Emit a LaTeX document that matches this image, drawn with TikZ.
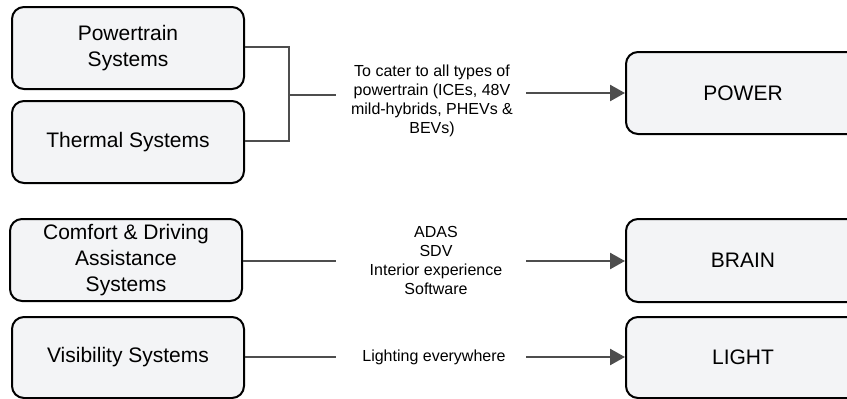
\documentclass[tikz,border=0pt]{standalone}
\usepackage{fontspec}
\setmainfont{Liberation Sans}
\usetikzlibrary{arrows.meta}
\definecolor{boxfill}{RGB}{243,244,246}
\definecolor{linkgray}{RGB}{77,77,77}
\tikzset{
  sysbox/.style={draw=black, line width=2pt, fill=boxfill, rounded corners=12pt,
    minimum width=232pt, inner sep=0pt, align=center,
    font=\fontsize{21}{26}\selectfont},
  tgtbox/.style={sysbox, minimum width=234pt},
  lbl/.style={align=center, inner sep=0pt, font=\fontsize{16}{19}\selectfont},
  link/.style={draw=linkgray, line width=2.5pt},
  arr/.style={link, -{Triangle[length=15pt,width=16pt]}}
}
\begin{document}
\begin{tikzpicture}[x=1pt,y=-1pt]
\clip (0,0) rectangle (847,399);
\fill[white] (0,0) rectangle (847,399);
% left boxes
\node[sysbox, minimum height=82pt] (pt) at (128,48) {Powertrain\\Systems};
\node[sysbox, minimum height=82pt] (th) at (128,142) {Thermal Systems};
\node[sysbox, minimum height=82pt] (cf) at (126,260) {Comfort \& Driving\\Assistance\\Systems};
\node[sysbox, minimum height=81pt] (vs) at (128,357.5) {Visibility Systems};
% right boxes
\node[tgtbox, minimum height=82pt] (pw) at (743,93) {POWER};
\node[tgtbox, minimum height=83pt] (br) at (743,260.5) {BRAIN};
\node[tgtbox, minimum height=81pt] (lt) at (743,357.5) {LIGHT};
% labels
\node[lbl] (l1) at (432,101) {To cater to all types of\\powertrain (ICEs, 48V\\mild-hybrids, PHEVs \&\\BEVs)};
\node[lbl] (l2) at (436,260) {ADAS\\SDV\\Interior experience\\Software};
\node[lbl] (l3) at (434,357) {Lighting everywhere};
% junction coordinates
\coordinate (jx) at (289,95);
\coordinate (j1e) at (336,95);
\coordinate (j1s) at (526,93);
\coordinate (j2e) at (336,261);
\coordinate (j2s) at (526,261);
\coordinate (j3e) at (336,357);
\coordinate (j3s) at (526,357);
% connectors
\draw[link] (pt.east |- 0,47) -| (jx |- 0,141) -- (th.east |- 0,141);
\draw[link] (jx) -- (j1e);
\draw[arr] (j1s) -- (pw.west |- j1s);
\draw[link] (cf.east |- j2e) -- (j2e);
\draw[arr] (j2s) -- (br.west |- j2s);
\draw[link] (vs.east |- j3e) -- (j3e);
\draw[arr] (j3s) -- (lt.west |- j3s);
\end{tikzpicture}
\end{document}
